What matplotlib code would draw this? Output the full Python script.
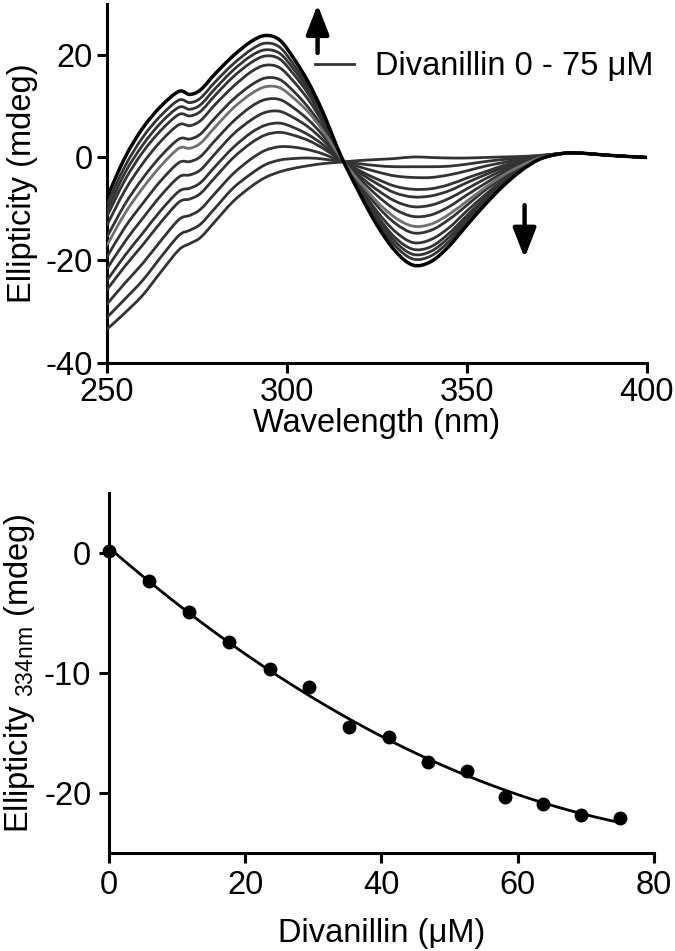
import numpy as np
import matplotlib
matplotlib.use("Agg")
import matplotlib.pyplot as plt
from matplotlib.path import Path
from matplotlib.patches import PathPatch

plt.rcParams['font.family'] = ['Liberation Sans', 'DejaVu Sans']
plt.rcParams['axes.unicode_minus'] = False
plt.rcParams['mathtext.fontset'] = 'custom'
plt.rcParams['mathtext.rm'] = 'Liberation Sans'

# ---------------- Top panel data: CD spectra (mdeg) ----------------
wavelength = [250, 255, 260, 265, 270, 273, 276, 280, 285, 290, 294, 298, 302, 306, 310,
              315, 320, 325, 330, 335, 340, 345, 350, 355, 360, 365, 370, 375, 380, 390, 400]

spec_00 = [-33.5, -30.3, -26.8, -22.3, -18.0, -16.8, -15.6, -12.5, -8.6, -5.7, -3.9, -2.8, -2.1, -1.6, -1.2,
           -0.9, -0.6, -0.4, -0.2, 0.1, 0.0, -0.1, -0.1, 0.0, 0.1, 0.2, 0.4, 0.7, 0.9, 0.4, 0.0]
spec_01 = [-31.2, -27.6, -23.9, -19.4, -15.2, -14.2, -13.0, -9.9, -6.0, -3.2, -1.4, -0.5, -0.2, -0.1, -0.3,
           -0.8, -1.2, -1.6, -1.8, -1.8, -1.8, -1.7, -1.3, -0.8, -0.4, -0.1, 0.3, 0.7, 0.9, 0.4, 0.0]
spec_02 = [-28.6, -24.5, -20.6, -16.2, -12.1, -11.3, -10.1, -7.0, -3.2, -0.3, 1.4, 2.1, 2.0, 1.5, 0.7,
           -0.7, -1.8, -2.8, -3.6, -3.9, -3.9, -3.4, -2.6, -1.7, -1.0, -0.3, 0.2, 0.7, 0.9, 0.4, 0.0]
spec_03 = [-25.8, -21.2, -17.0, -12.6, -8.7, -8.1, -7.0, -3.9, -0.1, 2.8, 4.4, 4.9, 4.3, 3.3, 1.8,
           -0.5, -2.5, -4.2, -5.6, -6.2, -6.1, -5.3, -4.0, -2.8, -1.6, -0.6, 0.2, 0.7, 0.9, 0.4, 0.0]
spec_04 = [-24.0, -19.1, -14.7, -10.3, -6.6, -6.0, -4.9, -1.8, 1.9, 4.8, 6.3, 6.7, 5.8, 4.4, 2.5,
           -0.5, -2.9, -5.1, -6.9, -7.7, -7.5, -6.5, -4.9, -3.4, -2.0, -0.8, 0.1, 0.7, 0.9, 0.4, 0.0]
spec_05 = [-21.7, -16.4, -11.8, -7.4, -3.8, -3.4, -2.4, 0.7, 4.5, 7.3, 8.8, 9.0, 7.7, 5.9, 3.4,
           -0.3, -3.5, -6.3, -8.5, -9.6, -9.3, -8.0, -6.1, -4.2, -2.5, -1.1, 0.0, 0.7, 0.9, 0.4, 0.0]
spec_06 = [-19.4, -13.6, -8.9, -4.5, -1.0, -0.8, 0.2, 3.3, 7.0, 9.9, 11.3, 11.3, 9.6, 7.3, 4.3,
           -0.2, -4.0, -7.4, -10.1, -11.5, -11.2, -9.6, -7.3, -5.1, -3.0, -1.3, 0.0, 0.7, 0.9, 0.4, 0.0]
spec_07 = [-17.1, -10.9, -5.9, -1.6, 1.8, 1.8, 2.8, 5.9, 9.6, 12.4, 13.8, 13.6, 11.5, 8.8, 5.2,
           -0.1, -4.6, -8.6, -11.7, -13.4, -13.0, -11.1, -8.5, -5.9, -3.5, -1.6, -0.1, 0.6, 0.9, 0.4, 0.0]
spec_08 = [-15.5, -9.1, -4.0, 0.3, 3.6, 3.6, 4.6, 7.7, 11.3, 14.1, 15.5, 15.2, 12.8, 9.7, 5.8,
           0.0, -4.9, -9.4, -12.8, -14.7, -14.2, -12.1, -9.3, -6.4, -3.9, -1.8, -0.2, 0.6, 0.9, 0.4, 0.0]
spec_09 = [-13.2, -6.4, -1.1, 3.2, 6.4, 6.2, 7.2, 10.3, 13.8, 16.7, 18.0, 17.5, 14.7, 11.2, 6.7,
           0.0, -5.5, -10.5, -14.4, -16.6, -16.0, -13.7, -10.4, -7.3, -4.4, -2.0, -0.2, 0.6, 0.9, 0.4, 0.0]
spec_10 = [-11.5, -4.4, 1.1, 5.3, 8.4, 8.1, 9.0, 12.1, 15.7, 18.5, 19.8, 19.2, 16.1, 12.3, 7.4,
           0.1, -5.9, -11.3, -15.6, -17.9, -17.4, -14.8, -11.3, -7.9, -4.8, -2.2, -0.3, 0.6, 0.9, 0.4, 0.0]
spec_11 = [-10.4, -3.0, 2.5, 6.8, 9.8, 9.4, 10.3, 13.4, 17.0, 19.8, 21.0, 20.3, 17.1, 13.0, 7.8,
           0.2, -6.2, -11.9, -16.4, -18.9, -18.3, -15.6, -11.9, -8.3, -5.0, -2.3, -0.3, 0.6, 0.9, 0.4, 0.0]
spec_12 = [-9.2, -1.7, 4.0, 8.2, 11.2, 10.7, 11.6, 14.7, 18.2, 21.0, 22.3, 21.5, 18.0, 13.7, 8.3,
           0.2, -6.5, -12.5, -17.2, -19.8, -19.2, -16.4, -12.5, -8.7, -5.3, -2.4, -0.4, 0.6, 0.9, 0.4, 0.0]
spec_13 = [-7.8, 0.0, 5.8, 10.0, 12.9, 12.3, 13.2, 16.3, 19.8, 22.6, 23.8, 22.9, 19.2, 14.6, 8.8,
           0.3, -6.8, -13.2, -18.2, -21.0, -20.3, -17.3, -13.2, -9.2, -5.6, -2.6, -0.4, 0.6, 0.9, 0.4, 0.0]

spectra = [spec_00, spec_01, spec_02, spec_03, spec_04, spec_05, spec_06,
           spec_07, spec_08, spec_09, spec_10, spec_11, spec_12, spec_13]

# ---------------- Bottom panel data: titration at 334 nm ----------------
divanillin_uM = [0, 5.9, 11.8, 17.7, 23.6, 29.4, 35.2, 41.1, 46.8, 52.5, 58.1, 63.7, 69.3, 75.0]
ellipticity_334 = [0.2, -2.3, -4.9, -7.45, -9.7, -11.2, -14.5, -15.3, -17.4, -18.2, -20.3, -20.9, -21.8, -22.1]

top_xticks = [250, 300, 350, 400]
top_yticks = [-40, -20, 0, 20]
bot_xticks = [0, 20, 40, 60, 80]
bot_yticks = [0, -10, -20]

FS = 23.5
SPINE_LW = 2.2

fig = plt.figure(figsize=(6.75, 9.51), dpi=100)


def style(ax, pad=3):
    for s in ['top', 'right']:
        ax.spines[s].set_visible(False)
    for s in ['left', 'bottom']:
        ax.spines[s].set_linewidth(SPINE_LW)
    ax.tick_params(direction='out', length=7.5, width=SPINE_LW, labelsize=FS, pad=pad)


def smooth_path(x, y):
    """Bezier path through the given data points (Catmull-Rom tangents)."""
    p = np.column_stack([x, y]).astype(float)
    n = len(p)
    verts = [p[0]]
    codes = [Path.MOVETO]
    for i in range(n - 1):
        p0 = p[i - 1] if i > 0 else p[i]
        p1, p2 = p[i], p[i + 1]
        p3 = p[i + 2] if i + 2 < n else p[i + 1]
        c1 = p1 + (p2 - p0) / 6.0
        c2 = p2 - (p3 - p1) / 6.0
        verts += [c1, c2, p2]
        codes += [Path.CURVE4] * 3
    return Path(verts, codes)


# ---- top panel ----
ax1 = fig.add_axes([0.1585, 0.6188, 0.8, 0.3773])
style(ax1)
for i, s in enumerate(spectra):
    if i == len(spectra) - 1:
        col, lw, z = 'black', 2.5, 5
    elif i == 7:
        col, lw, z = '#707070', 2.0, 4
    else:
        col, lw, z = '#333333', 2.0, 3
    ax1.add_patch(PathPatch(smooth_path(wavelength, s), facecolor='none',
                            edgecolor=col, lw=lw, zorder=z, capstyle='round',
                            joinstyle='round'))
# legend proxy line
ax1.plot([], [], color='#333333', lw=2.0, label='Divanillin 0 - 75 \u03bcM')
ax1.set_xlim(250, 400)
ax1.set_ylim(-40, 30)
ax1.set_xticks(top_xticks)
ax1.set_yticks(top_yticks)
ax1.set_xlabel('Wavelength (nm)', fontsize=FS, labelpad=0)
ax1.set_ylabel('Ellipticity (mdeg)', fontsize=FS, labelpad=5)

ax1.legend(loc='center left', bbox_to_anchor=(0.385, 0.824), frameon=False,
           fontsize=FS, handlelength=1.2, handletextpad=0.65,
           borderpad=0, borderaxespad=0)

arrow_kw = dict(arrowstyle='-|>,head_width=0.35,head_length=0.9', lw=3.2,
                color='black', mutation_scale=20, shrinkA=0, shrinkB=0)
ax1.annotate('', xy=(308.5, 29.8), xytext=(308.5, 20.4), arrowprops=arrow_kw)
ax1.annotate('', xy=(366.0, -19.6), xytext=(366.0, -9.3), arrowprops=arrow_kw)

# ---- bottom panel ----
ax2 = fig.add_axes([0.161, 0.1030, 0.808, 0.3786])
style(ax2, pad=5)
coef = np.polyfit(divanillin_uM, ellipticity_334, 2)
xfit = np.linspace(min(divanillin_uM), max(divanillin_uM), 200)
ax2.plot(xfit, np.polyval(coef, xfit), color='black', lw=2.0, zorder=3)
ax2.plot(divanillin_uM, ellipticity_334, 'o', color='black', ms=9, zorder=4, clip_on=False)
ax2.set_xlim(0, 80)
ax2.set_ylim(-25, 5)
ax2.set_xticks(bot_xticks)
ax2.set_yticks(bot_yticks)
ax2.set_xlabel('Divanillin (\u03bcM)', fontsize=FS, labelpad=12)
ax2.set_ylabel(r'Ellipticity $_{\mathrm{334nm}}$ (mdeg)', fontsize=FS, labelpad=5)

fig.savefig('out.png', dpi=100)
